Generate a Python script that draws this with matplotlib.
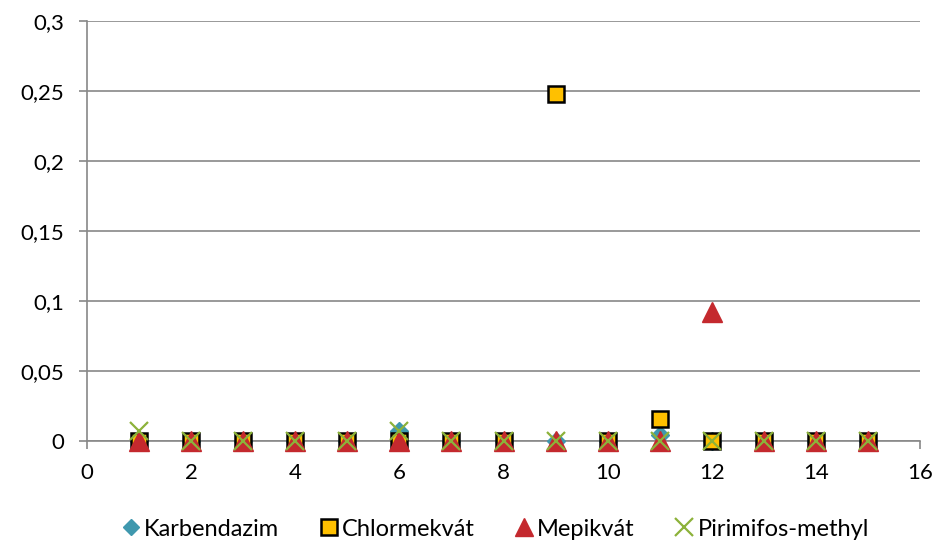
import matplotlib
matplotlib.use("Agg")
import matplotlib.pyplot as plt

plt.rcParams["font.family"] = ["Lato", "DejaVu Sans"]

samples = list(range(1, 16))
karbendazim = [0, 0, 0, 0, 0, 0.007, 0, 0, 0, 0, 0.004, 0, 0, 0, 0]
chlormekvat = [0, 0, 0, 0, 0, 0, 0, 0, 0.248, 0, 0.016, 0, 0, 0, 0]
mepikvat = [0, 0, 0, 0, 0, 0, 0, 0, 0, 0, 0, 0.092, 0, 0, 0]
pirimifos = [0.007, 0, 0, 0, 0, 0.007, 0, 0, 0, 0, 0, 0, 0, 0, 0]

yticks = [0, 0.05, 0.1, 0.15, 0.2, 0.25, 0.3]
ylabels = ["0", "0,05", "0,1", "0,15", "0,2", "0,25", "0,3"]

fig = plt.figure(figsize=(9.32, 5.44), dpi=100)
ax = fig.add_axes([87 / 932, 1 - 441 / 544, (920 - 87) / 932, (441 - 21) / 544])

ax.plot(samples, karbendazim, ls="none", marker="D", ms=9, color="#3F98AE",
        mec="#3F98AE", label="Karbendazim", zorder=3)
ax.plot(samples, chlormekvat, ls="none", marker="s", ms=12, color="#FFC000",
        mec="black", mew=1.8, label="Chlormekvát", zorder=4)
ax.plot(samples, mepikvat, ls="none", marker="^", ms=14, color="#C4292E",
        mec="#C4292E", label="Mepikvát", zorder=5)
ax.plot(samples, pirimifos, ls="none", marker="x", ms=13, mew=1.6,
        color="#8CB23A", label="Pirimifos-methyl", zorder=6)

ax.set_xlim(0, 16)
ax.set_ylim(0, 0.3)
ax.set_xticks(range(0, 17, 2))
ax.set_yticks(yticks)
ax.set_yticklabels(ylabels)
ax.grid(axis="y", color="#888888", lw=1.2)
ax.set_axisbelow(True)
for side in ["top", "right"]:
    ax.spines[side].set_visible(False)
for side in ["left", "bottom"]:
    ax.spines[side].set_color("#888888")
    ax.spines[side].set_linewidth(1.2)
ax.tick_params(axis="both", colors="#888888", labelcolor="black",
               labelsize=16, length=5.5, width=1.2)
ax.tick_params(axis="x", pad=10)
ax.tick_params(axis="y", pad=11)
for line in ax.lines:
    line.set_clip_on(False)

fig.legend(loc="center", bbox_to_anchor=(494 / 932, 1 - 529 / 544), ncol=4,
           frameon=False, fontsize=17, handletextpad=0.05, columnspacing=1.6,
           handlelength=1.0, markerscale=0.95)

fig.savefig("out.png", dpi=100)
